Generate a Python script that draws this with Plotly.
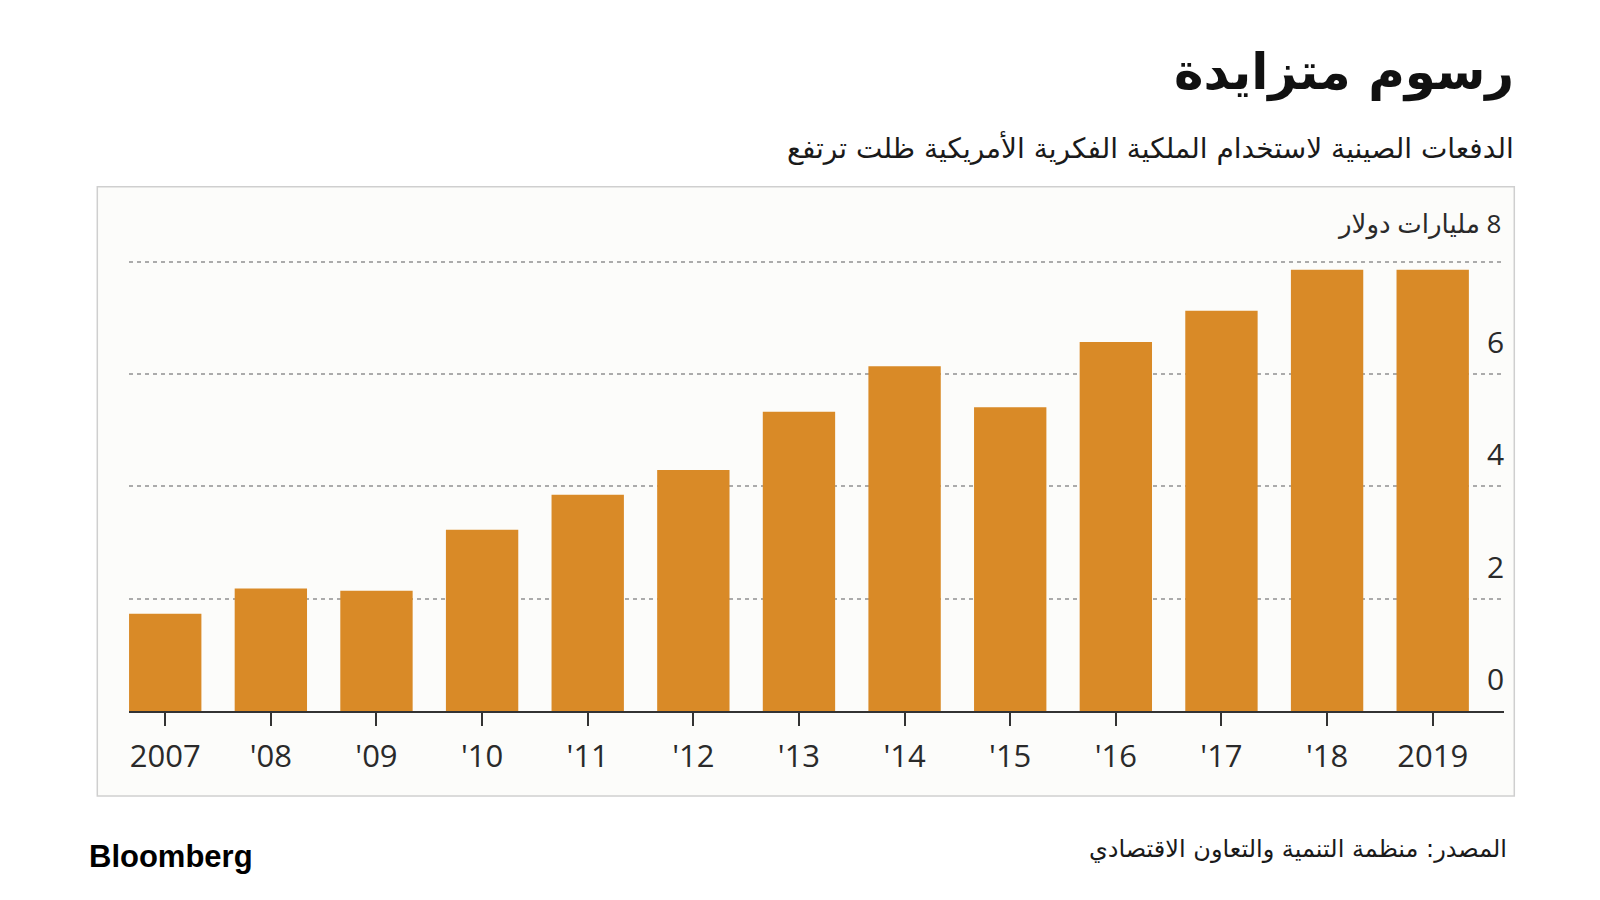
import plotly.graph_objects as go

# ---- data ----
years = ["2007", "'08", "'09", "'10", "'11", "'12", "'13", "'14", "'15", "'16", "'17", "'18", "2019"]
payments = [1.73, 2.18, 2.14, 3.23, 3.85, 4.29, 5.33, 6.14, 5.41, 6.57, 7.13, 7.86, 7.86]
y_ticks = [0, 2, 4, 6, 8]
y_tick_labels = ["0", "2", "4", "6", "8 مليارات دولار"]

title_text = "رسوم متزايدة"
subtitle_text = "الدفعات الصينية لاستخدام الملكية الفكرية الأمريكية ظلت ترتفع"
source_text = "المصدر: منظمة التنمية والتعاون الاقتصادي"
brand_text = "Bloomberg"

RLE, PDF = "\u202B", "\u202C"
BAR = "#D98A27"
TXT = "#2a2a2a"
ARABIC = "DejaVu Sans"
NUM = "Open Sans"

fig = go.Figure()
fig.add_trace(go.Bar(
    x=list(range(len(years))), y=payments,
    marker=dict(color=BAR, line=dict(width=0)),
    width=0.685, hoverinfo="skip",
))

OFF = 8  # page body margin offset
W, H = 1600, 900
L, R, T, B = 121, 104, 251, 197
pw, ph = W - L - R, H - T - B

def px_x(v):  # page pixel -> paper coord
    return (v - OFF - L) / pw

def px_y(v):
    return 1 - (v - OFF - T) / ph

fig.update_layout(
    width=W, height=H,
    margin=dict(l=L, r=R, t=T, b=B, pad=0),
    paper_bgcolor="white",
    plot_bgcolor="rgba(0,0,0,0)",
    showlegend=False,
    bargap=0.3,
    xaxis=dict(
        range=[-0.343, 12.675],
        tickmode="array", tickvals=list(range(len(years))), ticktext=years,
        showgrid=False, zeroline=False,
        showline=True, linecolor="#333333", linewidth=2,
        ticks="outside", ticklen=13, tickwidth=2, tickcolor="#333333",
        tickfont=dict(family=NUM, size=31, color=TXT),
        ticklabelstandoff=4,
        fixedrange=True,
    ),
    yaxis=dict(
        range=[0, 8.05],
        tickmode="array", tickvals=[2, 4, 6, 8],
        showticklabels=False, zeroline=False,
        showgrid=True, gridcolor="#ababab", gridwidth=2, griddash="4px,4px",
        fixedrange=True,
    ),
)

# panel background box
fig.add_shape(type="rect", xref="paper", yref="paper",
              x0=px_x(97.3), x1=px_x(1514.3), y0=px_y(796), y1=px_y(186.7),
              fillcolor="#fcfcfa", line=dict(color="#cfcfcf", width=1.5), layer="below")

# y-axis labels sitting above gridlines, right aligned
for v, lab in zip(y_ticks, y_tick_labels):
    if v == 8:
        fig.add_annotation(x=1, xref="paper", y=v, yref="y", xanchor="right", yanchor="bottom",
                           text=RLE + lab + PDF, showarrow=False, yshift=19, xshift=-1,
                           font=dict(family=NUM + ", " + ARABIC, size=26, color=TXT))
    else:
        fig.add_annotation(x=1, xref="paper", y=v, yref="y", xanchor="right", yanchor="bottom",
                           text=lab, showarrow=False, yshift=10, xshift=2,
                           font=dict(family=NUM, size=30, color=TXT))

# title / subtitle
fig.add_annotation(x=px_x(1516), xref="paper", y=px_y(72), yref="paper", xanchor="right", yanchor="middle",
                   text="<b>" + RLE + title_text + PDF + "</b>", showarrow=False,
                   font=dict(family=ARABIC, size=50, color="#111111"))
fig.add_annotation(x=px_x(1516), xref="paper", y=px_y(147), yref="paper", xanchor="right", yanchor="middle",
                   text=RLE + subtitle_text + PDF, showarrow=False,
                   font=dict(family=ARABIC, size=28, color="#1a1a1a"))
# source
fig.add_annotation(x=px_x(1509), xref="paper", y=px_y(849), yref="paper", xanchor="right", yanchor="middle",
                   text=RLE + source_text + PDF, showarrow=False,
                   font=dict(family=ARABIC, size=24, color="#1a1a1a"))
# brand
fig.add_annotation(x=px_x(87), xref="paper", y=px_y(856), yref="paper", xanchor="left", yanchor="middle",
                   text="<b>" + brand_text + "</b>", showarrow=False,
                   font=dict(family="Liberation Sans", size=31, color="#000000"))

fig.write_html("out.html")
